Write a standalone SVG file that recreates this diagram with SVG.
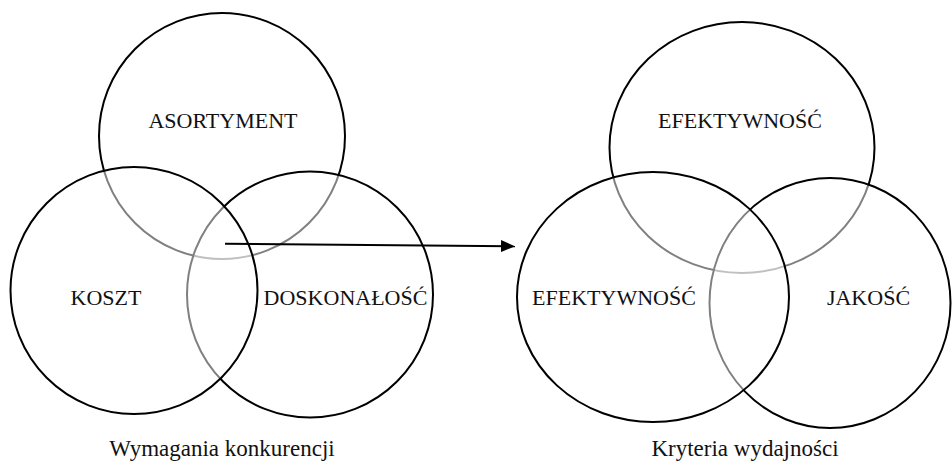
<svg xmlns="http://www.w3.org/2000/svg" width="952" height="461" viewBox="0 0 952 461">
  <style>
    .c { fill: #ffffff; fill-opacity: 0.5; stroke: #000000; stroke-width: 2; }
    .lbl { font-family: "Liberation Serif", "Times New Roman", serif; font-size: 22px; fill: #111111; text-anchor: middle; }
    .cap { font-family: "Liberation Serif", "Times New Roman", serif; font-size: 23px; fill: #111111; text-anchor: middle; }
    .conn { stroke: #000000; stroke-width: 2; fill: none; }
  </style>
  <defs>
    <marker id="arrow" markerUnits="userSpaceOnUse" markerWidth="14" markerHeight="12" refX="14" refY="6" orient="auto">
      <path d="M0,0 L14,6 L0,12 Z" fill="#000000"/>
    </marker>
  </defs>
  <rect width="952" height="461" fill="#ffffff"/>

  <!-- Left diagram: Wymagania konkurencji -->
  <g id="asortyment">
    <circle class="c" cx="222" cy="136" r="123"/>
  </g>
  <g id="doskonalosc">
    <circle class="c" cx="310" cy="294.5" r="123"/>
  </g>
  <g id="koszt">
    <circle class="c" cx="134" cy="290.5" r="123.5"/>
  </g>

  <!-- Right diagram: Kryteria wydajności -->
  <g id="efektywnosc-top">
    <ellipse class="c" cx="742" cy="147.5" rx="132.5" ry="125.5"/>
  </g>
  <g id="jakosc">
    <ellipse class="c" cx="830" cy="303" rx="120.5" ry="125"/>
  </g>
  <g id="efektywnosc-left">
    <ellipse class="c" cx="653" cy="297" rx="136" ry="125"/>
  </g>

  <g id="connectors">
    <line class="conn" x1="225" y1="243.8" x2="515" y2="246.2" marker-end="url(#arrow)"/>
  </g>

  <g id="labels">
    <text class="lbl" x="223" y="128">ASORTYMENT</text>
    <text class="lbl" x="106" y="305">KOSZT</text>
    <text class="lbl" x="345.5" y="305">DOSKONAŁOŚĆ</text>
    <text class="lbl" x="740" y="128">EFEKTYWNOŚĆ</text>
    <text class="lbl" x="614" y="305">EFEKTYWNOŚĆ</text>
    <text class="lbl" x="868.5" y="305">JAKOŚĆ</text>
    <text class="cap" x="222" y="456">Wymagania konkurencji</text>
    <text class="cap" x="745" y="456">Kryteria wydajności</text>
  </g>
</svg>
